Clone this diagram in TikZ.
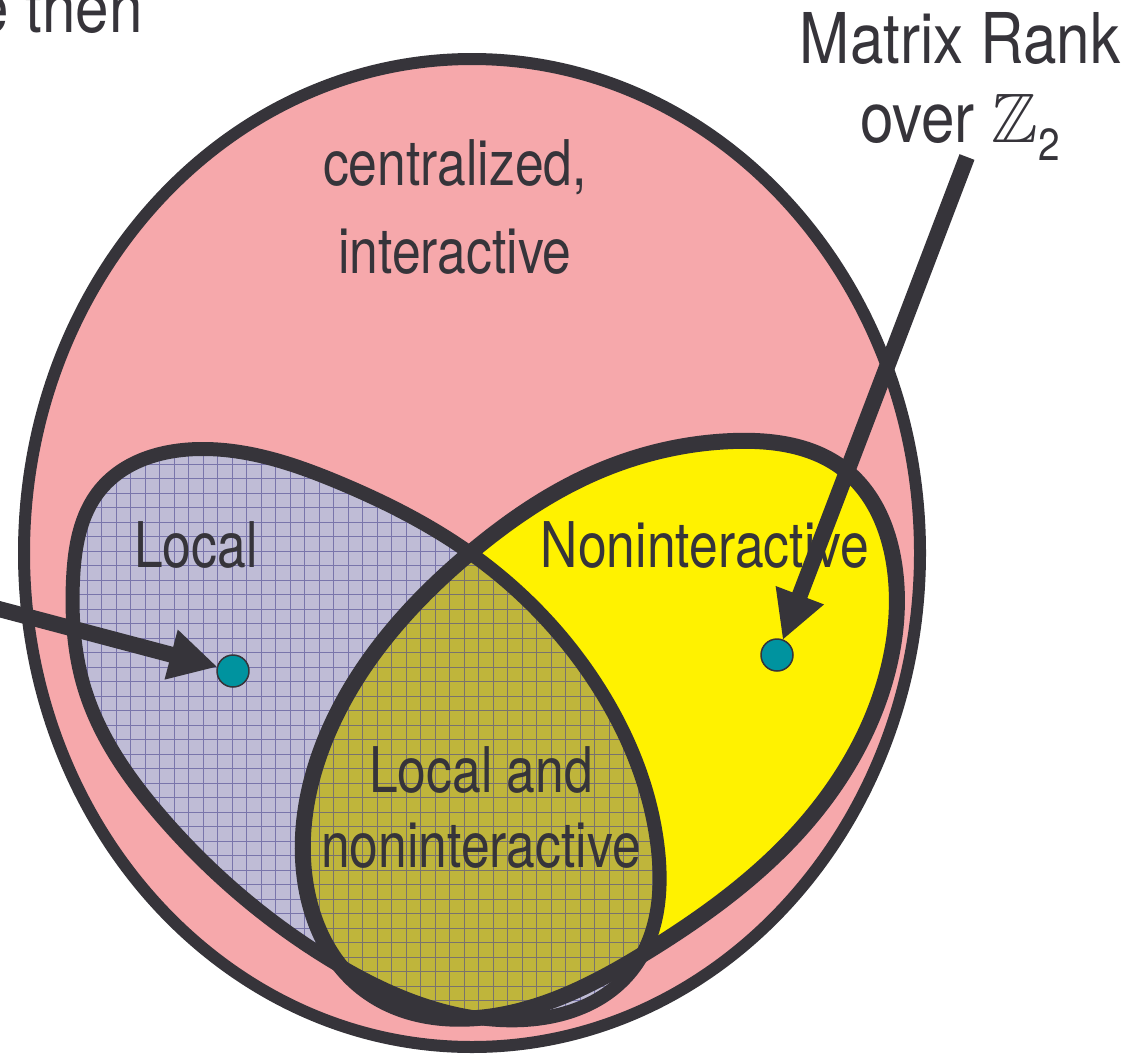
\documentclass[tikz,border=0pt]{standalone}
\usepackage{fontspec}
\usepackage{amssymb}
\usetikzlibrary{arrows.meta,hobby}
\newfontfamily\labfont[FakeStretch=0.82]{TeX Gyre Heros}
\newfontfamily\bigfont[FakeStretch=0.86]{TeX Gyre Heros}
\definecolor{pinkfill}{HTML}{F6A8AB}
\definecolor{lavfill}{HTML}{BFBCD6}
\definecolor{yelfill}{HTML}{FFF200}
\definecolor{olivefill}{HTML}{BFB53B}
\definecolor{darkline}{HTML}{36343A}
\definecolor{tealdot}{HTML}{00939F}
\definecolor{gridcol}{HTML}{4B478F}
\newcommand\OuterShape{(472,553) ellipse [x radius=448pt, y radius=494pt]}
\newcommand\LocalShape{(200,449) .. (340,483) .. (470,553) .. (600,690) .. (658,850) .. (632,970) .. (500,1020) .. (330,960) .. (160,815) .. (85,690) .. (73,580) .. (100,490)}
\newcommand\NonShape{(733,441) .. (845,470) .. (895,570) .. (888,670) .. (800,830) .. (650,950) .. (500,1015) .. (365,990) .. (305,880) .. (325,740) .. (470,553) .. (590,475)}
\begin{document}
\begin{tikzpicture}[x=1pt,y=-1pt,line join=round,
  blob/.style={use Hobby shortcut, closed=true},
  txt/.style={text=darkline, inner sep=0pt, anchor=base, align=center},
  labtxt/.style={txt, font=\labfont\fontsize{63}{75}\selectfont},
  bigtxt/.style={txt, font=\bigfont\fontsize{70}{79}\selectfont},
  dotnode/.style={circle, draw=darkline, line width=1.5pt, fill=tealdot, minimum size=32pt, inner sep=0pt, outer sep=0pt},
  pointer/.style={draw=darkline, line width=16pt, -{Triangle[length=48pt,width=48pt]}}]
\useasboundingbox (0,0) rectangle (1140,1055);
% outer region
\fill[pinkfill] \OuterShape;
\draw[darkline, line width=12pt] \OuterShape;
% inner regions
\fill[lavfill, blob] \LocalShape;
\fill[yelfill, blob] \NonShape;
\begin{scope}
  \clip[blob] \LocalShape;
  \fill[olivefill, blob] \NonShape;
  \draw[gridcol, opacity=0.6, line width=0.9pt, step=14.5pt] (-20,1080) grid (1160,-20);
\end{scope}
\draw[darkline, line width=14pt, blob] \LocalShape;
\draw[darkline, line width=16pt, blob] \NonShape;
% texts
\node[labtxt, font=\labfont\fontsize{63}{88}\selectfont] (central) at (455,273) {centralized,\\interactive};
\node[labtxt] (local) at (196,567) {Local};
\node[labtxt] (nonint) at (705,567) {Noninteractive};
\node[labtxt] (both) at (481,867) {Local and\\noninteractive};
\node[bigtxt] (matrix) at (960,142) {Matrix Rank\\over $\mathbb{Z}$\raisebox{-18pt}{\fontsize{45}{45}\selectfont 2}};
\node[bigtxt, anchor=base east] (then) at (143,32) {e then};
% dots and arrows
\node[dotnode] (dotL) at (233,671) {};
\node[dotnode] (dotN) at (777,655) {};
\coordinate (leftstart) at (-20,604);
\coordinate (rightstart) at (967,157);
\draw[pointer] (leftstart) -- (dotL);
\draw[pointer] (rightstart) -- (dotN);
\end{tikzpicture}
\end{document}
